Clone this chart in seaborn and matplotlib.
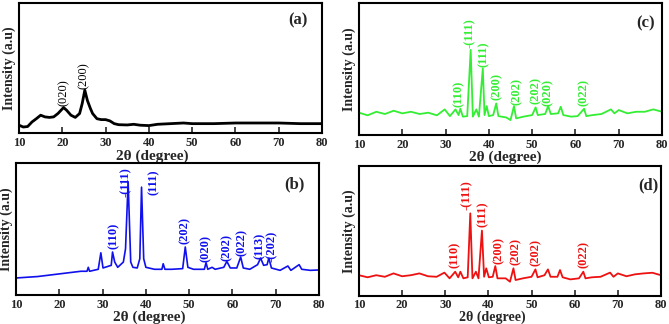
import matplotlib
matplotlib.use('Agg')
import matplotlib.pyplot as plt
import seaborn as sns
import pandas as pd

# XRD traces (2theta in degrees, intensity in arbitrary units 0-100)
a_x = [10, 11, 12, 13, 14, 15, 16, 17, 18, 19, 20.3, 21, 22, 23, 24, 24.6, 25.2, 25.8, 26.5, 27, 28, 29, 30,
       31, 32, 33, 35, 36.5, 38, 40, 42, 45, 48, 50, 55, 60, 65, 70, 75, 80]
a_y = [6, 4.6, 5, 8.5, 11, 13.7, 12.4, 12, 12.4, 15, 19.6, 17.5, 13.7, 12, 15, 22.7, 33, 25, 18.8, 15, 11, 10.3, 10.3,
       9.3, 7.2, 6.4, 6.2, 6.7, 6, 5.7, 6.7, 7.2, 7.7, 7.2, 7.2, 7.7, 7.7, 7.7, 7.2, 7.2]

b_x = [10, 15, 20, 25, 26.4, 26.7, 27, 29, 29.6, 30.1, 32, 32.3, 32.8, 33.5, 34.8, 35.3, 35.9, 36.5, 37, 38, 38.6,
       39.0, 39.5, 40, 42, 43.7, 44, 44.4, 46, 48.5, 49.1, 49.7, 51, 53.5, 53.9, 54.3, 55.3, 56, 58, 58.7, 59.5,
       61, 61.9, 62.5, 64, 65.8, 66.5, 67.2, 68, 68.4, 69, 71, 72.8, 73.5, 75.4, 76, 78, 80]
b_y = [12.9, 14, 16, 18, 18, 21, 18, 19.5, 32, 20.5, 22.5, 32.6, 25, 21, 25, 35, 86, 25, 21, 20.5, 27.5,
       81.8, 27.5, 21, 19.5, 19.5, 23.7, 19.5, 19.5, 20, 36.4, 21, 19.5, 19.5, 24.5, 19.5, 21, 19.5, 21, 25.5, 20.5,
       20.5, 28.8, 20.5, 19.5, 23, 28, 22.5, 23, 28, 20.5, 18.7, 22, 18.7, 23, 19.5, 18.7, 19]

c_x = [10, 12, 14, 16, 18, 20, 22, 24, 26, 28, 29.8, 31, 32.3, 33, 33.4, 34, 35, 35.8, 36.3, 37.1, 37.7, 38.6,
       39, 39.5, 40, 41, 41.7, 42.2, 44, 45, 45.8, 46.3, 48, 50, 50.8, 51.3, 53, 53.7, 54.3, 56, 56.6, 57.2, 59,
       60.5, 62, 62.5, 64, 66, 68.2, 69, 70, 72, 74, 76, 78, 80]
c_y = [17, 15, 17.7, 16, 18.5, 16.5, 17.7, 16, 17, 15, 19.5, 14.4, 19.5, 15.2, 20, 14, 14.4, 64.6, 14, 19.5, 14, 50.6,
       15.2, 22, 14.4, 15.2, 24, 14.4, 13.4, 11.4, 22, 12.7, 14, 15.2, 21, 15.2, 16, 22, 16, 16.5, 21.5, 15.2, 14,
       14.4, 20, 14.4, 15.2, 16, 19.5, 16.5, 19, 16.5, 17.7, 17.7, 19.5, 17.7]

d_x = [10, 12, 14, 16, 18, 20, 22, 24, 26, 28, 29.8, 31, 32.3, 33, 33.5, 34.2, 35.2, 35.8, 36.3, 37.1, 37.7, 38.5,
       39, 39.5, 40.1, 41, 41.6, 42.1, 44, 45, 45.8, 46.3, 48, 50, 50.9, 51.4, 53, 53.8, 54.4, 56, 56.6, 57.2, 59,
       61, 62, 62.5, 64, 66, 68.2, 69, 70, 72, 74, 76, 78, 80]
d_y = [16, 14.4, 16, 14.8, 17.4, 15.2, 16, 17.4, 15.2, 14.8, 18, 13.6, 18.7, 14.4, 18.7, 13.6, 14.4, 63.6, 13.6, 18.7,
       13.6, 50.3, 14.8, 21.3, 14.4, 14.8, 23, 13.6, 13.6, 11, 21.3, 12.3, 13.6, 14.8, 20.5, 14.4, 16, 20.5, 14.8,
       14.8, 20, 14.4, 12.8, 13.6, 18.7, 13.6, 14.4, 14.8, 18, 14.8, 17.4, 15.2, 16.7, 17.4, 17.9, 16]

# peak labels: (hkl, 2theta, bottom of text)
a_peaks = [('(020)', 20.3, 20.6), ('(200)', 24.9, 34)]
b_peaks = [('(110)', 32.5, 34.6), ('-(111)', 35.4, 74), ('(111)', 41.8, 76), ('(202)', 49.1, 39),
           ('(020)', 53.9, 25), ('(202)', 58.8, 26), ('(022)', 62.2, 29.5), ('(113)', 66.4, 27.5),
           ('-(202)', 69.0, 25)]
c_peaks = [('(110)', 33.0, 21.5), ('-(111)', 35.5, 65.8), ('(111)', 38.8, 52), ('(200)', 41.9, 26.6),
           ('(202)', 46.4, 22.8), ('(202)', 50.8, 23.5), ('(020)', 53.7, 22), ('(022)', 62.0, 22)]
d_peaks = [('(110)', 32.2, 21.3), ('-(111)', 35.1, 66), ('(111)', 38.8, 53), ('(200)', 42.5, 24.6),
           ('(202)', 46.4, 23.8), ('(202)', 51.0, 23), ('(022)', 62.0, 21.3)]

sns.set_style('ticks')
plt.rcParams['font.family'] = ['Liberation Serif', 'DejaVu Serif']
plt.rcParams['font.weight'] = 'bold'

fig = plt.figure(figsize=(6.69, 3.24), dpi=100)

# tag, x, y, peaks, colour, line width, peak weight, axes rect, tag position, xlabel position, xlabel size, tick pad
panels = [
    ('(a)', a_x, a_y, a_peaks, 'black', 2.0, 'normal', [0.0284, 0.5895, 0.453, 0.401], (0.92, 0.87), (0.44, -0.125), 11, 3),
    ('(b)', b_x, b_y, b_peaks, '#1010ee', 1.2, 'bold', [0.0239, 0.0895, 0.453, 0.407], (0.92, 0.84), (0.44, -0.12), 11, 3),
    ('(c)', c_x, c_y, c_peaks, '#33ee33', 1.3, 'bold', [0.5366, 0.583, 0.453, 0.407], (0.944, 0.85), (0.483, -0.12), 11, 3),
    ('(d)', d_x, d_y, d_peaks, '#ee1111', 1.3, 'bold', [0.5366, 0.0864, 0.4514, 0.401], (0.957, 0.85), (0.44, -0.115), 10, 2),
]

for tag, xs, ys, peaks, color, lw, fw, rect, tagpos, xlpos, xlsize, tpad in panels:
    ax = fig.add_axes(rect)
    df = pd.DataFrame({'two_theta': xs, 'intensity': ys})
    sns.lineplot(data=df, x='two_theta', y='intensity', ax=ax, color=color, linewidth=lw, sort=False)
    for hkl, px, py in peaks:
        ax.text(px, py, hkl, rotation=90, ha='center', va='bottom', color=color,
                fontsize=9, fontweight=fw, clip_on=True)
    ax.set_xlim(10, 80)
    ax.set_ylim(0, 100)
    ax.set_xticks(range(10, 81, 10))
    ax.set_yticks([])
    ax.tick_params(axis='x', direction='in', length=4, width=1.2, labelsize=9, pad=tpad)
    for s in ax.spines.values():
        s.set_linewidth(1.5)
        s.set_color('black')
    ax.set_xlabel('2θ (degree)', fontsize=xlsize, fontweight='bold')
    ax.xaxis.set_label_coords(*xlpos)
    ax.set_ylabel('Intensity (a.u)', fontsize=10, fontweight='bold', labelpad=2)
    ax.text(tagpos[0], tagpos[1], tag, transform=ax.transAxes, ha='center', va='center',
            fontsize=12, fontweight='bold')

fig.savefig('out.png', dpi=100)
